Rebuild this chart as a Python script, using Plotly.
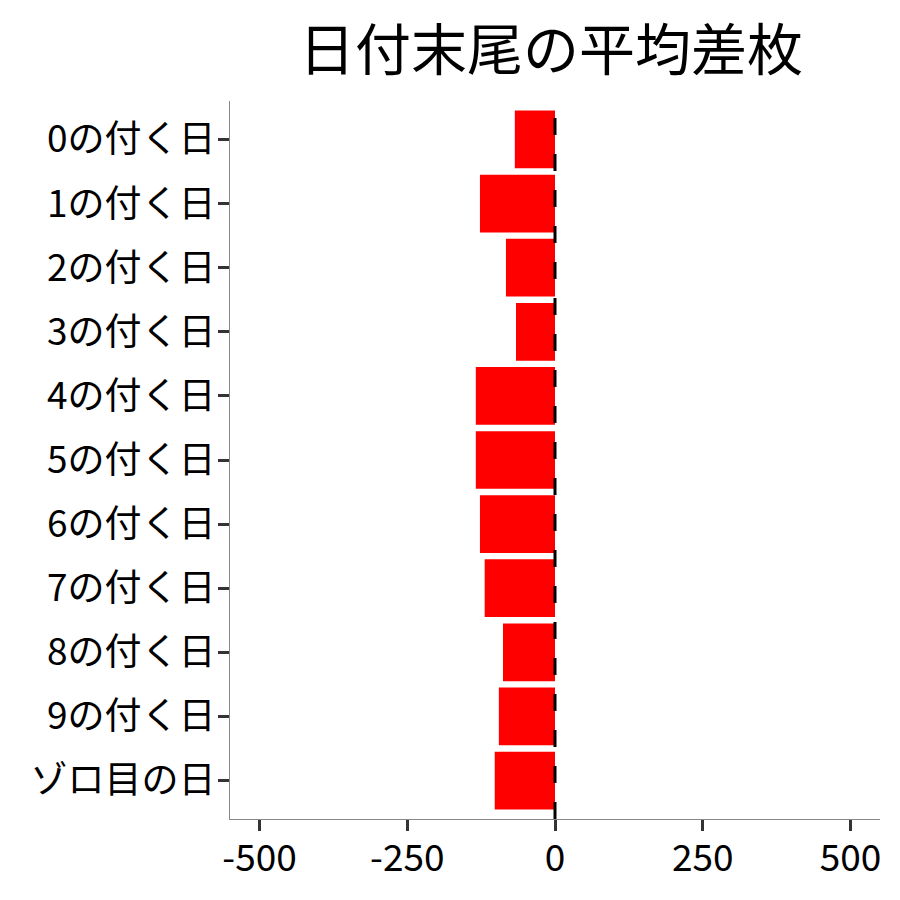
import plotly.graph_objects as go

# 日付末尾ごとの平均差枚
categories = ["0の付く日", "1の付く日", "2の付く日", "3の付く日", "4の付く日",
              "5の付く日", "6の付く日", "7の付く日", "8の付く日", "9の付く日", "ゾロ目の日"]
avg_diff = [-68, -127, -83, -66, -134, -134, -127, -119, -88, -95, -102]
x_ticks = [-500, -250, 0, 250, 500]

FONT = "Noto Sans CJK JP"

fig = go.Figure()
fig.add_trace(go.Bar(
    x=avg_diff,
    y=categories,
    orientation="h",
    marker=dict(color="#ff0000", line=dict(width=0)),
    showlegend=False,
))

# 0の位置に点線
fig.add_shape(type="line", x0=0, x1=0, y0=0, y1=1, xref="x", yref="paper",
              line=dict(color="black", width=3, dash="17px,19px"), layer="above")

fig.update_layout(
    width=900, height=900,
    paper_bgcolor="white", plot_bgcolor="white",
    margin=dict(l=222, r=28, t=93, b=89, autoexpand=False),
    bargap=0.1,
    font=dict(family=FONT, color="black", size=37),
    title=dict(text="日付末尾の平均差枚", x=0.494, xref="paper", xanchor="center",
               y=0.953, yanchor="middle", font=dict(size=56, family=FONT)),
)
fig.update_xaxes(
    range=[-550, 550], tickvals=x_ticks, ticktext=[str(v) for v in x_ticks],
    showgrid=False, zeroline=False, showline=True, linecolor="#888888", linewidth=1.2,
    ticks="outside", ticklen=11, tickwidth=2.5, tickcolor="#333333",
    tickfont=dict(size=37), ticklabelstandoff=-5,
)
fig.update_yaxes(
    range=[len(categories) - 0.4, -0.6], showgrid=False, zeroline=False,
    showline=True, linecolor="#888888", linewidth=1.2,
    ticks="outside", ticklen=11, tickwidth=2.5, tickcolor="#333333",
    tickfont=dict(size=37), ticklabelstandoff=-5,
)

fig.write_html("out.html")
